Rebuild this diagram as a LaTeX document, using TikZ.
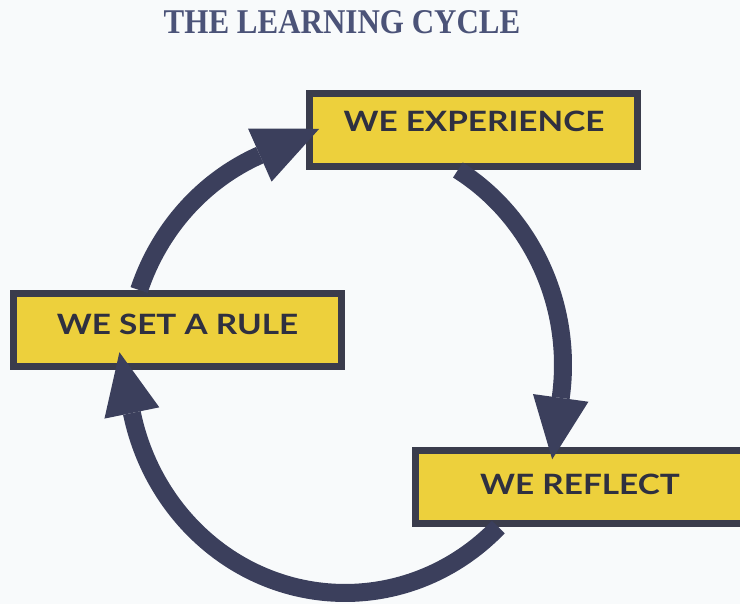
\documentclass[tikz,border=0pt]{standalone}
\usepackage{fontspec}
\setmainfont{Liberation Serif}
\newfontfamily\boxfont{Lato}
\usetikzlibrary{calc}
\definecolor{bg}{HTML}{F8FAFB}
\definecolor{boxyellow}{HTML}{EDD03C}
\definecolor{boxedge}{HTML}{3A3C4C}
\definecolor{arrowcol}{HTML}{3B3F5C}
\definecolor{titlecol}{HTML}{4B5378}
\definecolor{textcol}{HTML}{2F3040}
\newcommand{\widetxt}[1]{\scalebox{1.19}[1]{#1}}
\begin{document}
\begin{tikzpicture}[x=1pt,y=1pt,
  stagebox/.style={draw=boxedge, fill=boxyellow, line width=7pt, minimum width=328pt, minimum height=73pt, inner sep=0pt},
  stagetext/.style={font=\boxfont\bfseries\fontsize{28}{28}\selectfont, text=textcol, inner sep=0pt},
  cyc/.style={draw=arrowcol, line width=18pt},
  head/.style={fill=arrowcol}]
\fill[bg] (0,0) rectangle (740,604);
\clip (0,0) rectangle (740,604);
\node[font=\bfseries\fontsize{31}{31}\selectfont, text=titlecol, inner sep=0pt] (title) at (342,582) {\scalebox{1}[1.12]{THE LEARNING CYCLE}};
\node[stagebox] (exp) at (473,474) {};
\node[stagebox] (rule) at (177.5,274) {};
\node[stagebox] (refl) at (579.5,117) {};
\node[stagetext] (exptext) at (474,483) {\widetxt{WE EXPERIENCE}};
\node[stagetext] (ruletext) at (177.5,280) {\widetxt{WE SET A RULE}};
\node[stagetext] (refltext) at (580,120) {\widetxt{WE REFLECT}};
\coordinate (C) at (345,239);
% experience -> reflect
\draw[cyc] ($(C)+(58.8:218pt and 228pt)$) arc[start angle=58.8, end angle=-8.3, x radius=218pt, y radius=228pt] coordinate (h2);
\begin{scope}[shift={(h2)}, rotate=262.1]
\fill[head] (0,-28) -- (62,0) -- (0,28) -- cycle;
\end{scope}
% reflect -> rule
\draw[cyc] ($(C)+(-45.3:218pt and 228pt)$) arc[start angle=-45.3, end angle=-167.85, x radius=218pt, y radius=228pt] coordinate (h3);
\begin{scope}[shift={(h3)}, rotate=101.6]
\fill[head] (0,-28) -- (62,0) -- (0,28) -- cycle;
\end{scope}
% rule -> experience
\draw[cyc] ($(C)+(160.8:218pt and 228pt)$) arc[start angle=160.8, end angle=113, x radius=218pt, y radius=228pt] coordinate (h1);
\begin{scope}[shift={(h1)}, rotate=23.9]
\fill[head] (0,-29) -- (65,0) -- (0,29) -- cycle;
\end{scope}
\end{tikzpicture}
\end{document}
